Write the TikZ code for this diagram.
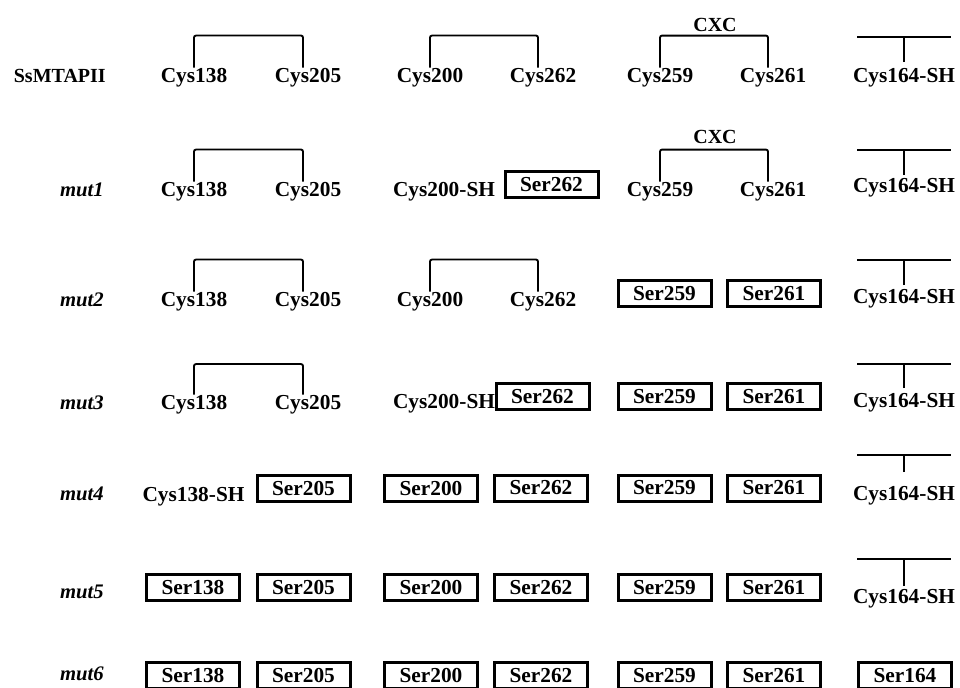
\documentclass[tikz,border=0pt]{standalone}
\usepackage{fontspec}
\setmainfont{Liberation Serif}
\usetikzlibrary{calc}
\tikzset{
  res/.style={inner sep=0pt, anchor=base, font=\fontsize{16}{19}\selectfont\bfseries},
  serbox/.style={draw, line width=2.25pt, minimum width=69.75pt, minimum height=19.5pt,
                 inner sep=0pt, font=\fontsize{16}{19}\selectfont\bfseries},
  rowlabel/.style={inner sep=0pt, anchor=base east, font=\fontsize{15.5}{18}\selectfont\bfseries\itshape},
  protlabel/.style={inner sep=0pt, anchor=base east, font=\fontsize{15}{18}\selectfont\bfseries},
  motif/.style={inner sep=0pt, anchor=base, font=\fontsize{15}{18}\selectfont\bfseries},
  bond/.style={line width=1.4pt, rounded corners=1.5pt},
}
% disulfide bracket between two residues: {left}{right}{height}
\newcommand\disulfide[3]{%
  \draw[bond] (#1.north) -- ++(0,-#3) -| ([xshift=-3.75pt]#2.north);}
% free thiol marker above a residue: {node}{gap}{length}
\newcommand\thiol[3]{%
  \path (#1.north) ++(0,-#2) coordinate (#1b) ++(0,-#3) coordinate (#1t);
  \draw[bond] (#1b) -- (#1t);
  \draw[line width=1.4pt] ([xshift=-34.9pt]#1t) -- ([xshift=34.9pt]#1t);}
\begin{document}
\begin{tikzpicture}[x=0.75pt,y=-0.75pt]
\clip (0,0) rectangle (960,687);

% wild type
\node[protlabel] (l0) at (106,82) {SsMTAPII};
\node[res] (a138) at (194,82) {Cys138};
\node[res] (a205) at (308,82) {Cys205};
\node[res] (a200) at (430,82) {Cys200};
\node[res] (a262) at (543,82) {Cys262};
\node[res] (a259) at (660,82) {Cys259};
\node[res] (a261) at (773,82) {Cys261};
\node[res] (a164) at (904,82) {Cys164-SH};
\node[motif] (acxc) at (715,31) {CXC};
\disulfide{a138}{a205}{32}
\disulfide{a200}{a262}{32}
\disulfide{a259}{a261}{32}
\thiol{a164}{5.6}{25}

% mut1
\node[rowlabel] (l1) at (104,196) {mut1};
\node[res] (b138) at (194,196) {Cys138};
\node[res] (b205) at (308,196) {Cys205};
\node[res] (b200) at (444,196) {Cys200-SH};
\node[serbox] (b262) at (551.5,184.5) {Ser262};
\node[res] (b259) at (660,196) {Cys259};
\node[res] (b261) at (773,196) {Cys261};
\node[res] (b164) at (904,192) {Cys164-SH};
\node[motif] (bcxc) at (715,143) {CXC};
\disulfide{b138}{b205}{32}
\disulfide{b259}{b261}{32}
\thiol{b164}{2.6}{25}

% mut2
\node[rowlabel] (l2) at (104,306) {mut2};
\node[res] (c138) at (194,306) {Cys138};
\node[res] (c205) at (308,306) {Cys205};
\node[res] (c200) at (430,306) {Cys200};
\node[res] (c262) at (543,306) {Cys262};
\node[serbox] (c259) at (664.5,293.5) {Ser259};
\node[serbox] (c261) at (774,293.5) {Ser261};
\node[res] (c164) at (904,303) {Cys164-SH};
\disulfide{c138}{c205}{32}
\disulfide{c200}{c262}{32}
\thiol{c164}{3.6}{25}

% mut3
\node[rowlabel] (l3) at (104,409) {mut3};
\node[res] (d138) at (194,409) {Cys138};
\node[res] (d205) at (308,409) {Cys205};
\node[res] (d200) at (444,408) {Cys200-SH};
\node[serbox] (d262) at (542.5,396.5) {Ser262};
\node[serbox] (d259) at (664.5,396.5) {Ser259};
\node[serbox] (d261) at (774,396.5) {Ser261};
\node[res] (d164) at (904,407) {Cys164-SH};
\disulfide{d138}{d205}{30.5}
\thiol{d164}{4.6}{24}

% mut4
\node[rowlabel] (l4) at (104,500) {mut4};
\node[res] (e138) at (193.5,501) {Cys138-SH};
\node[serbox] (e205) at (303.5,488) {Ser205};
\node[serbox] (e200) at (431,488) {Ser200};
\node[serbox] (e262) at (541,488) {Ser262};
\node[serbox] (e259) at (664.5,488) {Ser259};
\node[serbox] (e261) at (774,488) {Ser261};
\node[res] (e164) at (904,500) {Cys164-SH};
\thiol{e164}{13.6}{17}

% mut5
\node[rowlabel] (l5) at (104,598) {mut5};
\node[serbox] (f138) at (193,587.5) {Ser138};
\node[serbox] (f205) at (303.5,587.5) {Ser205};
\node[serbox] (f200) at (431,587.5) {Ser200};
\node[serbox] (f262) at (541,587.5) {Ser262};
\node[serbox] (f259) at (664.5,587.5) {Ser259};
\node[serbox] (f261) at (774,587.5) {Ser261};
\node[res] (f164) at (904,603) {Cys164-SH};
\thiol{f164}{2.6}{27}

% mut6
\node[rowlabel] (l6) at (104,680) {mut6};
\node[serbox] (g138) at (193,675.5) {Ser138};
\node[serbox] (g205) at (303.5,675.5) {Ser205};
\node[serbox] (g200) at (431,675.5) {Ser200};
\node[serbox] (g262) at (541,675.5) {Ser262};
\node[serbox] (g259) at (664.5,675.5) {Ser259};
\node[serbox] (g261) at (774,675.5) {Ser261};
\node[serbox] (g164) at (905,675.5) {Ser164};
\end{tikzpicture}
\end{document}
